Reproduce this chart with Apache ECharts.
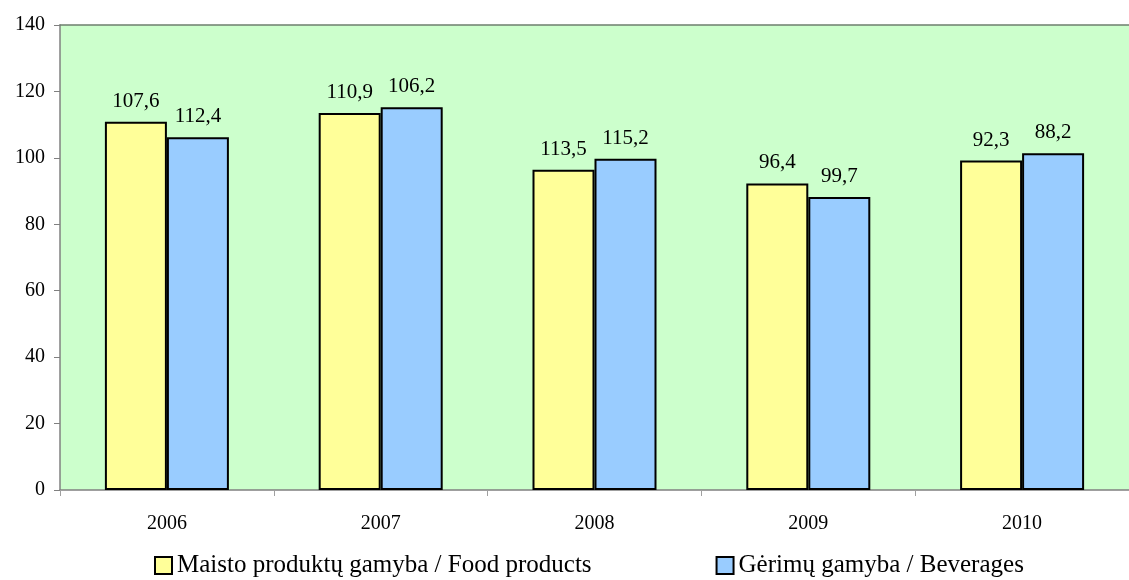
<!DOCTYPE html>
<html>
<head>
<meta charset="utf-8">
<script src="https://cdn.jsdelivr.net/npm/echarts@6/dist/echarts.min.js"></script>
<style>
  html, body { margin: 0; padding: 0; background: #fff; }
  #runChart { width: 1129px; height: 580px; }
</style>
</head>
<body>
<div id="runChart"></div>
<script>
let years = ["2006", "2007", "2008", "2009", "2010"];
// bar heights as drawn
let foodValues = [110.9, 113.5, 96.4, 92.3, 99.2];
let drinkValues = [106.2, 115.2, 99.7, 88.2, 101.4];
// label texts as printed above the bars
let foodLabels = ["107,6", "110,9", "113,5", "96,4", "92,3"];
let drinkLabels = ["112,4", "106,2", "115,2", "99,7", "88,2"];
let seriesNames = ["Maisto produktų gamyba / Food products", "Gėrimų gamyba / Beverages"];

let font = "Liberation Serif";

let option = {
  animation: false,
  textStyle: { fontFamily: font },
  color: ["#FFFF99", "#99CCFF"],
  legend: {
    data: seriesNames,
    top: 548,
    left: 149,
    itemGap: 124,
    itemWidth: 17,
    itemHeight: 17,
    icon: "rect",
    textStyle: { fontFamily: font, fontSize: 25, color: "#000" },
    itemStyle: { borderColor: "#000", borderWidth: 2 }
  },
  grid: {
    left: 60,
    right: 0,
    top: 25,
    bottom: 90,
    show: true,
    backgroundColor: "#CCFFCC",
    borderWidth: 0
  },
  xAxis: [
    {
      type: "category",
      data: years,
      boundaryGap: true,
      axisLine: { lineStyle: { color: "#808080", width: 1.5 } },
      axisTick: { show: true, length: 6, lineStyle: { color: "#A0A0A0" } },
      axisLabel: { fontFamily: font, fontSize: 20, color: "#000", margin: 24 }
    },
    {
      type: "category",
      data: years,
      position: "top",
      axisLine: { show: true, lineStyle: { color: "#6E7F6E", width: 1.5 } },
      axisTick: { show: false },
      axisLabel: { show: false }
    }
  ],
  yAxis: {
    type: "value",
    min: 0,
    max: 140,
    interval: 20,
    axisLine: { show: true, lineStyle: { color: "#808080", width: 1.5 } },
    axisTick: { show: true, length: 6, lineStyle: { color: "#808080" } },
    axisLabel: { fontFamily: font, fontSize: 20, color: "#000", margin: 15 },
    splitLine: { show: false }
  },
  series: [
    {
      name: seriesNames[0],
      type: "bar",
      data: foodValues,
      barWidth: 62,
      barGap: "0%",
      itemStyle: { borderColor: "#000", borderWidth: 2 },
      label: {
        show: true,
        position: "top",
        distance: 10,
        fontFamily: font,
        fontSize: 21,
        color: "#000",
        formatter: function (p) { return foodLabels[p.dataIndex]; }
      }
    },
    {
      name: seriesNames[1],
      type: "bar",
      data: drinkValues,
      barWidth: 62,
      barGap: "0%",
      itemStyle: { borderColor: "#000", borderWidth: 2 },
      label: {
        show: true,
        position: "top",
        distance: 10,
        fontFamily: font,
        fontSize: 21,
        color: "#000",
        formatter: function (p) { return drinkLabels[p.dataIndex]; }
      }
    }
  ]
};

var myChart = echarts.init(document.getElementById("runChart"));
myChart.setOption(option);
</script>
</body>
</html>
